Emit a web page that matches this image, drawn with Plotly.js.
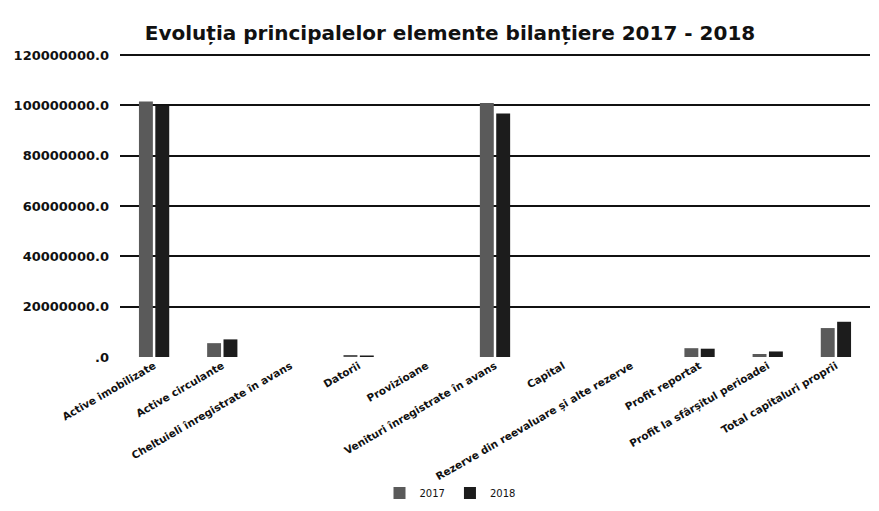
<!DOCTYPE html>
<html>
<head>
<meta charset="utf-8">
<script src="https://cdn.plot.ly/plotly-3.0.1.min.js"></script>
<style>html,body{margin:0;padding:0;background:#fff;}#chart{width:879px;height:511px;}</style>
</head>
<body>
<div id="chart"></div>
<script>
const categories = [
  "Active imobilizate",
  "Active circulante",
  "Cheltuieli înregistrate în avans",
  "Datorii",
  "Provizioane",
  "Venituri înregistrate în avans",
  "Capital",
  "Rezerve din reevaluare și alte rezerve",
  "Profit reportat",
  "Profit la sfârșitul perioadei",
  "Total capitaluri proprii"
];
const values2017 = [101500000, 5500000, 0, 800000, 0, 100900000, 0, 0, 3500000, 1200000, 11500000];
const values2018 = [99800000, 7000000, 0, 600000, 0, 96800000, 0, 0, 3300000, 2200000, 14000000];
const yTickVals = [0, 20000000, 40000000, 60000000, 80000000, 100000000, 120000000];
const yTickText = [".0", "20000000.0", "40000000.0", "60000000.0", "80000000.0", "100000000.0", "120000000.0"];

const data = [
  {type: "bar", name: "2017", x: categories, y: values2017,
   marker: {color: "#5a5a5a", line: {width: 0}}},
  {type: "bar", name: "2018", x: categories, y: values2018,
   marker: {color: "#1c1c1c", line: {width: 0}}}
];

const layout = {
  width: 879, height: 511,
  margin: {l: 120, r: 9, t: 50, b: 154},
  paper_bgcolor: "#fff", plot_bgcolor: "#fff",
  font: {family: "DejaVu Sans", color: "#111", size: 10},
  title: {text: "<b>Evoluția principalelor elemente bilanțiere 2017 - 2018</b>",
          font: {family: "DejaVu Sans", size: 20, color: "#111"},
          x: 0.512, xanchor: "center", y: 0.935, yanchor: "middle"},
  barmode: "group",
  bargap: 0.52,
  bargroupgap: 0.15,
  xaxis: {tickangle: -30, tickfont: {family: "DejaVu Sans", size: 10.5, weight: "bold"},
          showgrid: false, showline: false, ticks: "", automargin: false},
  yaxis: {range: [0, 122000000], tickvals: yTickVals, ticktext: yTickText,
          tickfont: {family: "DejaVu Sans", size: 13, weight: "bold"},
          showgrid: true, gridcolor: "#111", gridwidth: 2, zeroline: false,
          showline: false, ticks: "", ticklen: 0, ticklabelstandoff: 10, automargin: false},
  legend: {orientation: "h", x: 0.44, xanchor: "center", xref: "paper",
           y: 0.035, yanchor: "middle", yref: "container",
           bgcolor: "rgba(0,0,0,0)", font: {size: 10, family: "DejaVu Sans"}},
  showlegend: true
};

Plotly.newPlot("chart", data, layout, {displayModeBar: false, staticPlot: true});
</script>
</body>
</html>
